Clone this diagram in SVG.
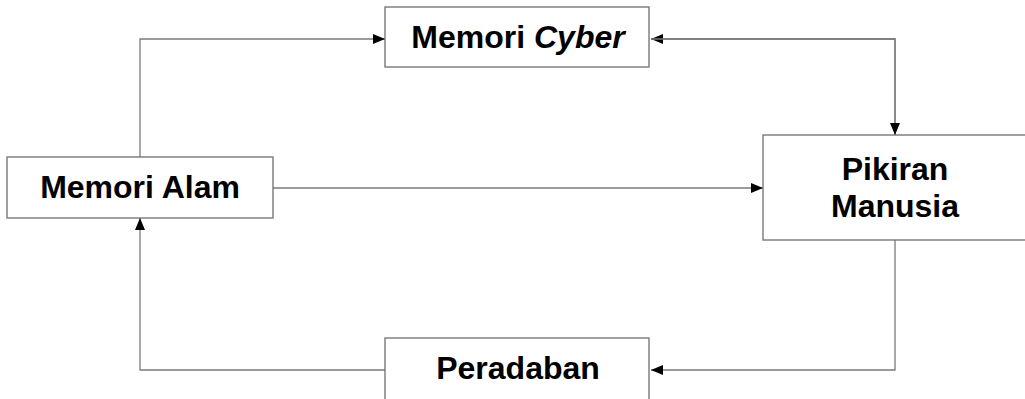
<svg xmlns="http://www.w3.org/2000/svg" width="1025" height="399" viewBox="0 0 1025 399">
  <style>
    .box { fill: #ffffff; stroke: #6e6e6e; stroke-width: 1.3; }
    .label { font-family: "Liberation Sans", Arial, sans-serif; font-weight: bold; font-size: 32px; fill: #000000; text-anchor: middle; }
    .link { fill: none; stroke: #7a7a7a; stroke-width: 1.3; }
  </style>
  <defs>
    <marker id="arrow" viewBox="0 0 12 10" refX="12" refY="5" markerWidth="12" markerHeight="10" markerUnits="userSpaceOnUse" orient="auto">
      <path d="M0,0 L12,5 L0,10 Z" fill="#000000"/>
    </marker>
  </defs>
  <rect width="1025" height="399" fill="#ffffff"/>

  <g id="connectors">
    <!-- Memori Alam up and across to Memori Cyber -->
    <path class="link" d="M140,157 V39 H385" marker-end="url(#arrow)"/>
    <!-- Memori Cyber <-> Pikiran Manusia -->
    <path class="link" d="M895,135 V39 H651" marker-end="url(#arrow)"/>
    <path class="link" d="M651,39 H895 V135" marker-end="url(#arrow)"/>
    <!-- Memori Alam to Pikiran Manusia -->
    <path class="link" d="M273,188 H763" marker-end="url(#arrow)"/>
    <!-- Pikiran Manusia down to Peradaban -->
    <path class="link" d="M895,240 V370 H651" marker-end="url(#arrow)"/>
    <!-- Peradaban back to Memori Alam -->
    <path class="link" d="M385,370 H140 V218" marker-end="url(#arrow)"/>
  </g>

  <g id="memori-cyber">
    <rect class="box" x="385" y="7" width="264" height="60"/>
    <text class="label" x="518" y="48">Memori <tspan font-style="italic">Cyber</tspan></text>
  </g>

  <g id="memori-alam">
    <rect class="box" x="7" y="157" width="266" height="61"/>
    <text class="label" x="140" y="198">Memori Alam</text>
  </g>

  <g id="pikiran-manusia">
    <rect class="box" x="763" y="135" width="270" height="105"/>
    <text class="label" x="895" y="180">Pikiran</text>
    <text class="label" x="895" y="217">Manusia</text>
  </g>

  <g id="peradaban">
    <rect class="box" x="385" y="338" width="264" height="70"/>
    <text class="label" x="518" y="379">Peradaban</text>
  </g>
</svg>
